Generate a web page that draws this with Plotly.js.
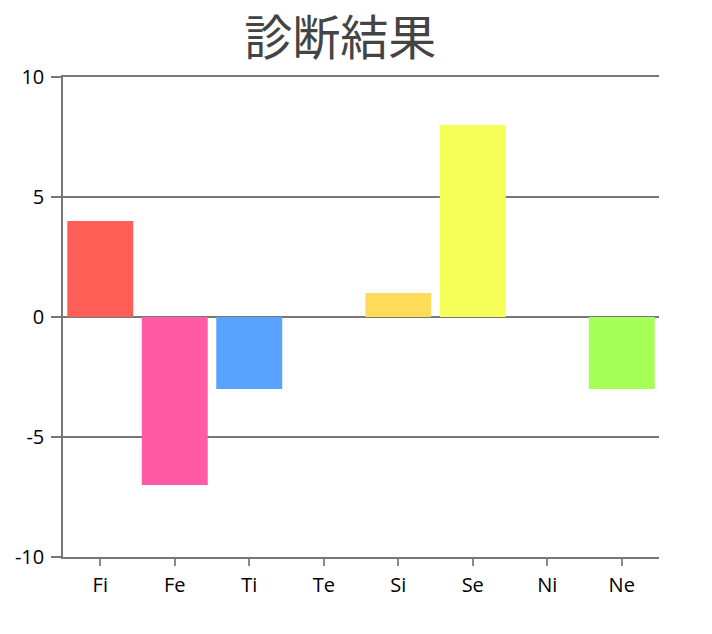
<!DOCTYPE html>
<html>
<head>
<meta charset="utf-8">
<script src="https://cdn.plot.ly/plotly-3.0.1.min.js"></script>
<style>
  html, body { margin: 0; padding: 0; background: #fff; }
  #chart { width: 712px; height: 634px; }
</style>
</head>
<body>
<div id="chart"></div>
<script>
// 診断結果 - bar chart of function scores
const categories = ["Fi", "Fe", "Ti", "Te", "Si", "Se", "Ni", "Ne"];
const scores = [4, -7, -3, 0, 1, 8, 0, -3];
const barColors = ["#ff5f57", "#ff5aa5", "#58a3ff", "#a8a8a8", "#ffdb5a", "#f5ff57", "#b0b0b0", "#a5ff57"];
const yTicks = [-10, -5, 0, 5, 10];

const trace = {
  x: categories,
  y: scores,
  type: "bar",
  marker: { color: barColors },
  hoverinfo: "x+y",
};

const layout = {
  width: 712,
  height: 634,
  margin: { l: 63, r: 53, t: 77, b: 77 },
  paper_bgcolor: "#fff",
  plot_bgcolor: "#fff",
  bargap: 0.115,
  showlegend: false,
  title: {
    text: "診断結果",
    font: { family: "Noto Sans CJK JP", size: 48, color: "#444" },
    x: 0.465,
    xanchor: "center",
    xref: "paper",
    y: 0.94,
    yref: "container",
    yanchor: "middle",
  },
  xaxis: {
    type: "category",
    showgrid: false,
    zeroline: false,
    // top and bottom frame lines (the 10 and -10 rules)
    showline: true,
    mirror: true,
    linecolor: "#777",
    linewidth: 1.5,
    ticks: "outside",
    ticklen: 7,
    tickcolor: "#888",
    tickwidth: 1.5,
    ticklabelstandoff: 2,
    tickfont: { family: "Open Sans", size: 20, color: "#000" },
  },
  yaxis: {
    range: [-10, 10],
    tickvals: yTicks,
    ticktext: yTicks.map(String),
    showgrid: true,
    gridcolor: "#777",
    gridwidth: 1.5,
    zeroline: false,
    showline: true,
    linecolor: "#777",
    linewidth: 1.5,
    ticks: "outside",
    ticklen: 10,
    tickcolor: "#777",
    tickwidth: 1.5,
    ticklabelstandoff: 3,
    tickfont: { family: "Open Sans", size: 20, color: "#000" },
  },
};

Plotly.newPlot("chart", [trace], layout, { displayModeBar: false });
</script>
</body>
</html>
